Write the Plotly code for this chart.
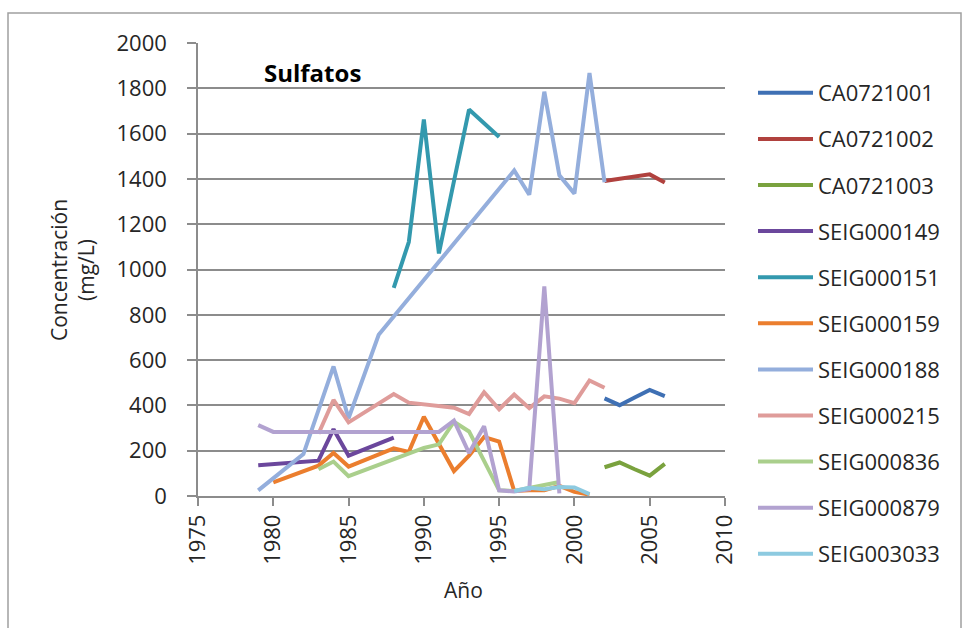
import plotly.graph_objects as go

# Sulfate concentration (mg/L) by monitoring station and year
stations = ["CA0721001", "CA0721002", "CA0721003", "SEIG000149", "SEIG000151",
            "SEIG000159", "SEIG000188", "SEIG000215", "SEIG000836", "SEIG000879",
            "SEIG003033"]

colors = ["#3F70B4", "#B0413E", "#7AA23E", "#6B479C", "#3399AE", "#EB7E2E",
          "#94AEDC", "#DF9C9A", "#AACF8C", "#B2A2D0", "#8DCAE0"]

ca0721001_years = [2002, 2003, 2004, 2005, 2006]
ca0721001_vals = [431, 401, 435, 468, 441]

ca0721002_years = [2002, 2003, 2004, 2005, 2006]
ca0721002_vals = [1391, 1402, 1411, 1420, 1384]

ca0721003_years = [2002, 2003, 2004, 2005, 2006]
ca0721003_vals = [127, 148, 118, 90, 142]

seig000149_years = [1979, 1980, 1983, 1984, 1985, 1988]
seig000149_vals = [136, 142, 156, 295, 178, 258]

seig000151_years = [1988, 1989, 1990, 1991, 1992, 1993, 1995]
seig000151_vals = [919, 1121, 1662, 1071, 1390, 1706, 1585]

seig000159_years = [1980, 1983, 1984, 1985, 1988, 1989, 1990, 1991, 1992, 1993,
                    1994, 1995, 1996, 1997, 1998, 1999, 2000, 2001]
seig000159_vals = [60, 134, 190, 130, 210, 195, 350, 230, 110, 178,
                   260, 240, 22, 25, 25, 45, 18, 6]

seig000188_years = [1979, 1982, 1984, 1985, 1987, 1996, 1997, 1998, 1999, 2000,
                    2001, 2002]
seig000188_vals = [25, 185, 572, 343, 712, 1437, 1330, 1785, 1416, 1335,
                   1868, 1385]

seig000215_years = [1983, 1984, 1985, 1988, 1989, 1992, 1993, 1994, 1995, 1996,
                    1997, 1998, 1999, 2000, 2001, 2002]
seig000215_vals = [275, 424, 325, 450, 412, 390, 362, 458, 383, 448,
                   388, 440, 430, 410, 510, 478]

seig000836_years = [1983, 1984, 1985, 1990, 1991, 1992, 1993, 1994, 1995, 1996,
                    1997, 1998, 1999]
seig000836_vals = [118, 152, 88, 212, 228, 328, 285, 150, 25, 22,
                   35, 48, 62]

seig000879_years = [1979, 1980, 1991, 1992, 1993, 1994, 1995, 1996, 1997, 1998, 1999]
seig000879_vals = [313, 283, 283, 333, 190, 308, 25, 20, 30, 925, 12]

seig003033_years = [1996, 1997, 1998, 1999, 2000, 2001]
seig003033_vals = [22, 36, 30, 40, 38, 8]

series_years = [ca0721001_years, ca0721002_years, ca0721003_years, seig000149_years,
                seig000151_years, seig000159_years, seig000188_years, seig000215_years,
                seig000836_years, seig000879_years, seig003033_years]
series_vals = [ca0721001_vals, ca0721002_vals, ca0721003_vals, seig000149_vals,
               seig000151_vals, seig000159_vals, seig000188_vals, seig000215_vals,
               seig000836_vals, seig000879_vals, seig003033_vals]

x_ticks = [1975, 1980, 1985, 1990, 1995, 2000, 2005, 2010]
y_ticks = [0, 200, 400, 600, 800, 1000, 1200, 1400, 1600, 1800, 2000]

FONT = "Open Sans, Noto Sans, sans-serif"
TEXT = "#262626"
GRID = "#8C8C8C"

W, H = 968, 628
ML, MR, MT, MB = 198, 243, 43, 132
PW, PH = W - ML - MR, H - MT - MB


def px_x(px):
    return (px - ML) / PW


def px_y(py):
    return (H - MB - py) / PH


fig = go.Figure()
for name, col, xs, ys in zip(stations, colors, series_years, series_vals):
    fig.add_trace(go.Scatter(
        x=xs, y=ys, name=name, mode="lines",
        line=dict(color=col, width=4),
        legendgroup=name,
        hoverinfo="x+y+name",
    ))

fig.update_layout(
    width=W, height=H,
    margin=dict(l=ML, r=MR, t=MT, b=MB),
    paper_bgcolor="white", plot_bgcolor="white",
    font=dict(family=FONT, size=22, color=TEXT),
    showlegend=True,
    legend=dict(
        x=px_x(753), y=px_y(72), xanchor="left", yanchor="top",
        font=dict(family=FONT, size=22, color=TEXT),
        tracegroupgap=14.5, itemwidth=55, maxheight=600,
        bgcolor="rgba(0,0,0,0)",
    ),
    xaxis=dict(
        range=[1975, 2010], tickvals=x_ticks, ticktext=[str(v) for v in x_ticks],
        tickangle=-90, ticks="outside", ticklen=8, tickcolor=GRID, tickwidth=1.5,
        showline=True, linecolor=GRID, linewidth=1.5,
        showgrid=False, zeroline=False,
        tickfont=dict(family=FONT, size=22, color=TEXT),
    ),
    yaxis=dict(
        range=[0, 2000], tickvals=y_ticks,
        ticks="outside", ticklen=9, tickcolor=GRID, tickwidth=1.5,
        ticklabelstandoff=16,
        showline=True, linecolor=GRID, linewidth=1.5,
        showgrid=True, gridcolor=GRID, gridwidth=1.5, zeroline=False,
        tickfont=dict(family=FONT, size=22, color=TEXT),
    ),
    annotations=[
        dict(text="<b>Sulfatos</b>", xref="paper", yref="paper",
             x=px_x(312), y=px_y(72), xanchor="center", yanchor="middle",
             showarrow=False,
             font=dict(family=FONT, size=24, color="#000000")),
        dict(text="Año", xref="paper", yref="paper",
             x=px_x(463), y=px_y(590), xanchor="center", yanchor="middle",
             showarrow=False,
             font=dict(family=FONT, size=21, color=TEXT)),
        dict(text="Concentración<br>(mg/L)", xref="paper", yref="paper",
             x=px_x(72), y=px_y(270), xanchor="center", yanchor="middle",
             showarrow=False, textangle=-90,
             font=dict(family=FONT, size=21, color=TEXT)),
    ],
    shapes=[
        dict(type="rect", xref="paper", yref="paper",
             x0=px_x(8), x1=px_x(961), y0=px_y(640), y1=px_y(13),
             line=dict(color="#A0A0A0", width=1.5), fillcolor="rgba(0,0,0,0)",
             layer="below"),
    ],
)

fig.write_html("out.html")
